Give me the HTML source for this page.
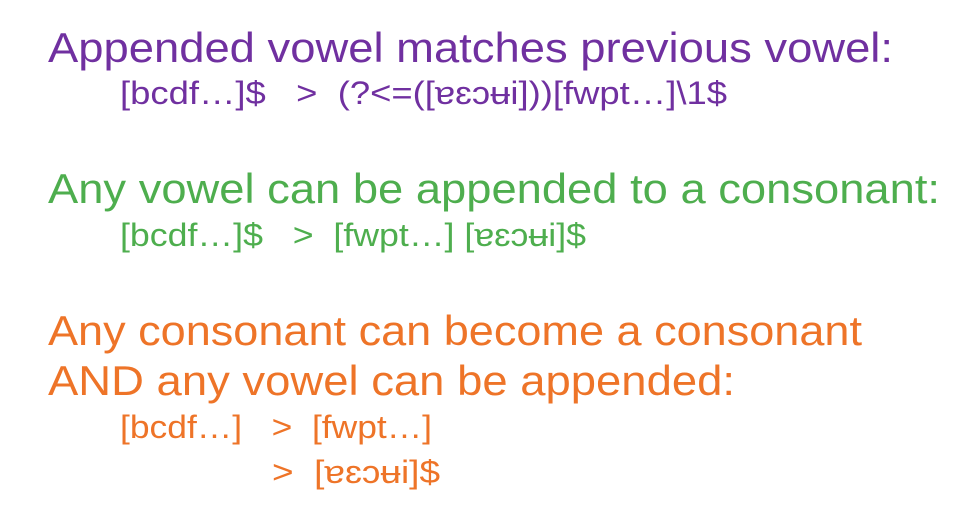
<!DOCTYPE html>
<html><head><meta charset="utf-8"><style>
html,body{margin:0;padding:0;background:#fff;width:970px;height:528px;overflow:hidden}
text{font-family:"Liberation Sans","DejaVu Sans",sans-serif}
.b{font-size:42px}
.s{font-size:32px}
</style></head><body>
<svg width="970" height="528" xmlns="http://www.w3.org/2000/svg">
<g fill="#7030A0">
<text class="b" x="48" y="62" textLength="845" lengthAdjust="spacingAndGlyphs">Appended vowel matches previous vowel:</text>
<text class="s" x="120" y="104" textLength="607" lengthAdjust="spacingAndGlyphs" xml:space="preserve">[bcdf…]$   &gt;  (?&lt;=([ɐɛɔʉi]))[fwpt…]\1$</text>
</g>
<g fill="#4EAE4E">
<text class="b" x="48" y="203" textLength="892" lengthAdjust="spacingAndGlyphs">Any vowel can be appended to a consonant:</text>
<text class="s" x="120" y="246" textLength="466" lengthAdjust="spacingAndGlyphs" xml:space="preserve">[bcdf…]$   &gt;  [fwpt…] [ɐɛɔʉi]$</text>
</g>
<g fill="#EE7428">
<text class="b" x="48" y="345" textLength="814" lengthAdjust="spacingAndGlyphs">Any consonant can become a consonant</text>
<text class="b" x="48" y="395" textLength="687" lengthAdjust="spacingAndGlyphs">AND any vowel can be appended:</text>
<text class="s" x="120" y="438" textLength="312" lengthAdjust="spacingAndGlyphs" xml:space="preserve">[bcdf…]   &gt;  [fwpt…]</text>
<text class="s" x="272" y="483" textLength="168" lengthAdjust="spacingAndGlyphs" xml:space="preserve">&gt;  [ɐɛɔʉi]$</text>
</g>
</svg>
</body></html>
